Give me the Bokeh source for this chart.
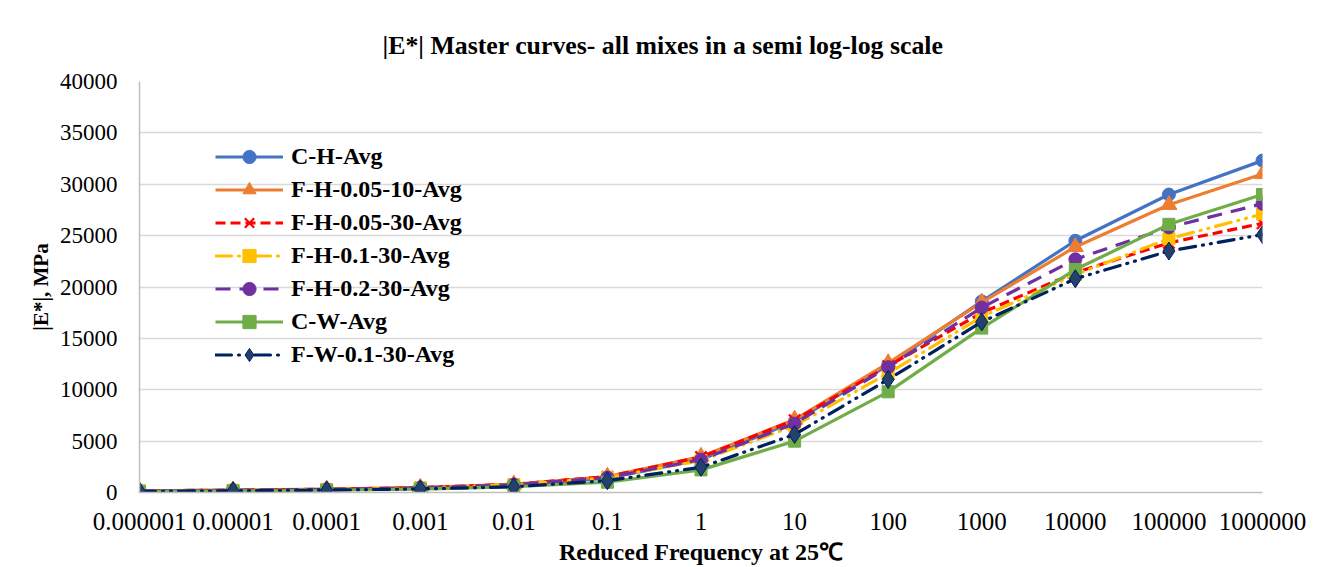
import numpy as np
from bokeh.plotting import figure
from bokeh.models import FixedTicker, Legend, LegendItem, Range1d
from bokeh.embed import file_html
from bokeh.resources import INLINE

# ---- data -------------------------------------------------------------
freq_labels = ["0.000001", "0.00001", "0.0001", "0.001", "0.01", "0.1", "1",
               "10", "100", "1000", "10000", "100000", "1000000"]
freqs = [1e-6, 1e-5, 1e-4, 1e-3, 1e-2, 1e-1, 1, 10, 100, 1000, 1e4, 1e5, 1e6]

ch_avg      = [150, 200, 280, 420, 720, 1400, 3200, 6900, 12400, 18600, 24500, 29000, 32300]
fh_005_10   = [170, 230, 320, 480, 800, 1550, 3500, 7100, 12600, 18500, 23900, 28000, 31000]
fh_005_30   = [170, 230, 320, 480, 800, 1550, 3450, 7050, 12300, 17500, 21400, 24300, 26200]
fh_01_30    = [160, 220, 300, 450, 760, 1450, 3100, 6500, 11600, 17100, 21200, 24700, 27100]
fh_02_30    = [160, 220, 300, 450, 760, 1450, 3200, 6700, 12200, 18000, 22700, 25800, 28100]
cw_avg      = [100, 150, 220, 330, 560, 1000, 2200, 5000, 9800, 16000, 21700, 26100, 29000]
fw_01_30    = [120, 170, 240, 350, 560, 1150, 2450, 5650, 11000, 16600, 20800, 23500, 25100]

series_names = ["C-H-Avg", "F-H-0.05-10-Avg", "F-H-0.05-30-Avg", "F-H-0.1-30-Avg",
                "F-H-0.2-30-Avg", "C-W-Avg", "F-W-0.1-30-Avg"]

x = list(np.log10(freqs))

FONT = "Liberation Serif"

p = figure(width=1321, height=567, output_backend="svg", toolbar_location=None,
           x_range=Range1d(-6.0, 6.0), y_range=Range1d(0, 40000),
           min_border_left=139, min_border_right=59, min_border_top=81,
           min_border_bottom=74)

p.title.text = "|E*| Master curves- all mixes in a semi log-log scale"
p.title.text_font = FONT
p.title.text_font_size = "25.8px"
p.title.text_font_style = "bold"
p.title.align = "left"
p.title.offset = 243
p.title.standoff = 44
p.title.text_color = "#000000"

p.outline_line_color = None
p.background_fill_color = "white"
p.border_fill_color = "white"

# axes
p.xaxis.ticker = FixedTicker(ticks=list(range(-6, 7)))
p.xaxis.major_label_overrides = {i - 6: lab for i, lab in enumerate(freq_labels)}
p.xaxis.axis_label = "Reduced Frequency at 25\u2103"
p.yaxis.ticker = FixedTicker(ticks=list(range(0, 40001, 5000)))
p.yaxis.axis_label = "|E*|, MPa"
p.yaxis.formatter.use_scientific = False

for ax in (p.xaxis[0], p.yaxis[0]):
    ax.major_tick_line_color = None
    ax.minor_tick_line_color = None
    ax.axis_line_color = "#BFBFBF"
    ax.axis_line_width = 1.5
    ax.major_label_text_font = FONT
    ax.major_label_text_color = "#000000"
    ax.axis_label_text_font = FONT
    ax.axis_label_text_font_style = "bold"
    ax.axis_label_text_color = "#000000"

p.xaxis.major_label_text_font_size = "25px"
p.yaxis.major_label_text_font_size = "23px"
p.xaxis.axis_label_text_font_size = "24px"
p.yaxis.axis_label_text_font_size = "21px"

p.yaxis.major_label_standoff = 16
p.yaxis.axis_label_standoff = 4
p.xaxis.major_label_standoff = 14
p.xaxis.axis_label_standoff = 6

p.xgrid.grid_line_color = None
p.ygrid.grid_line_color = "#D9D9D9"
p.ygrid.grid_line_width = 1.5

# ---- series -----------------------------------------------------------
styles = [
    dict(y=ch_avg, color="#4472C4", dash="solid", marker="circle", size=13,
         fill="#4472C4", mline="#4472C4"),
    dict(y=fh_005_10, color="#ED7D31", dash="solid", marker="triangle", size=16,
         fill="#ED7D31", mline="#ED7D31"),
    dict(y=fh_005_30, color="#FF0000", dash="10 5", marker="x", size=16,
         fill="#FF0000", mline="#FF0000"),
    dict(y=fh_01_30, color="#FFC000", dash="16 7 1 7 1 7", marker="square", size=12,
         fill="#FFC000", mline="#FFC000"),
    dict(y=fh_02_30, color="#7030A0", dash="15 9", marker="circle", size=13,
         fill="#7030A0", mline="#7030A0"),
    dict(y=cw_avg, color="#70AD47", dash="solid", marker="square", size=12,
         fill="#70AD47", mline="#70AD47"),
    dict(y=fw_01_30, color="#002060", dash="16 7 1 7 1 7", marker="diamond", size=18,
         fill="#24406E", mline="#002060"),
]

items = []
for name, st in zip(series_names, styles):
    r1 = p.line(x, st["y"], line_color=st["color"], line_width=3.2,
                line_dash=st["dash"], line_cap="round" if "1 7" in st["dash"] else "butt")
    if st["marker"] == "x":
        r2 = p.scatter(x, st["y"], marker="x", size=st["size"],
                       line_color=st["mline"], line_width=2.2)
    else:
        r2 = p.scatter(x, st["y"], marker=st["marker"], size=st["size"],
                       fill_color=st["fill"], line_color=st["mline"], line_width=1)
    items.append(LegendItem(label=name, renderers=[r1, r2]))

legend = Legend(items=items, location=(76, 121), orientation="vertical")
legend.label_text_font = FONT
legend.label_text_font_size = "24px"
legend.label_text_font_style = "bold"
legend.label_text_color = "#000000"
legend.glyph_width = 68
legend.glyph_height = 33
legend.label_height = 33
legend.label_standoff = 8
legend.spacing = 0
legend.padding = 0
legend.margin = 0
legend.border_line_color = None
legend.background_fill_alpha = 0
p.add_layout(legend, "center")

open("out.html", "w").write(file_html(p, INLINE))
